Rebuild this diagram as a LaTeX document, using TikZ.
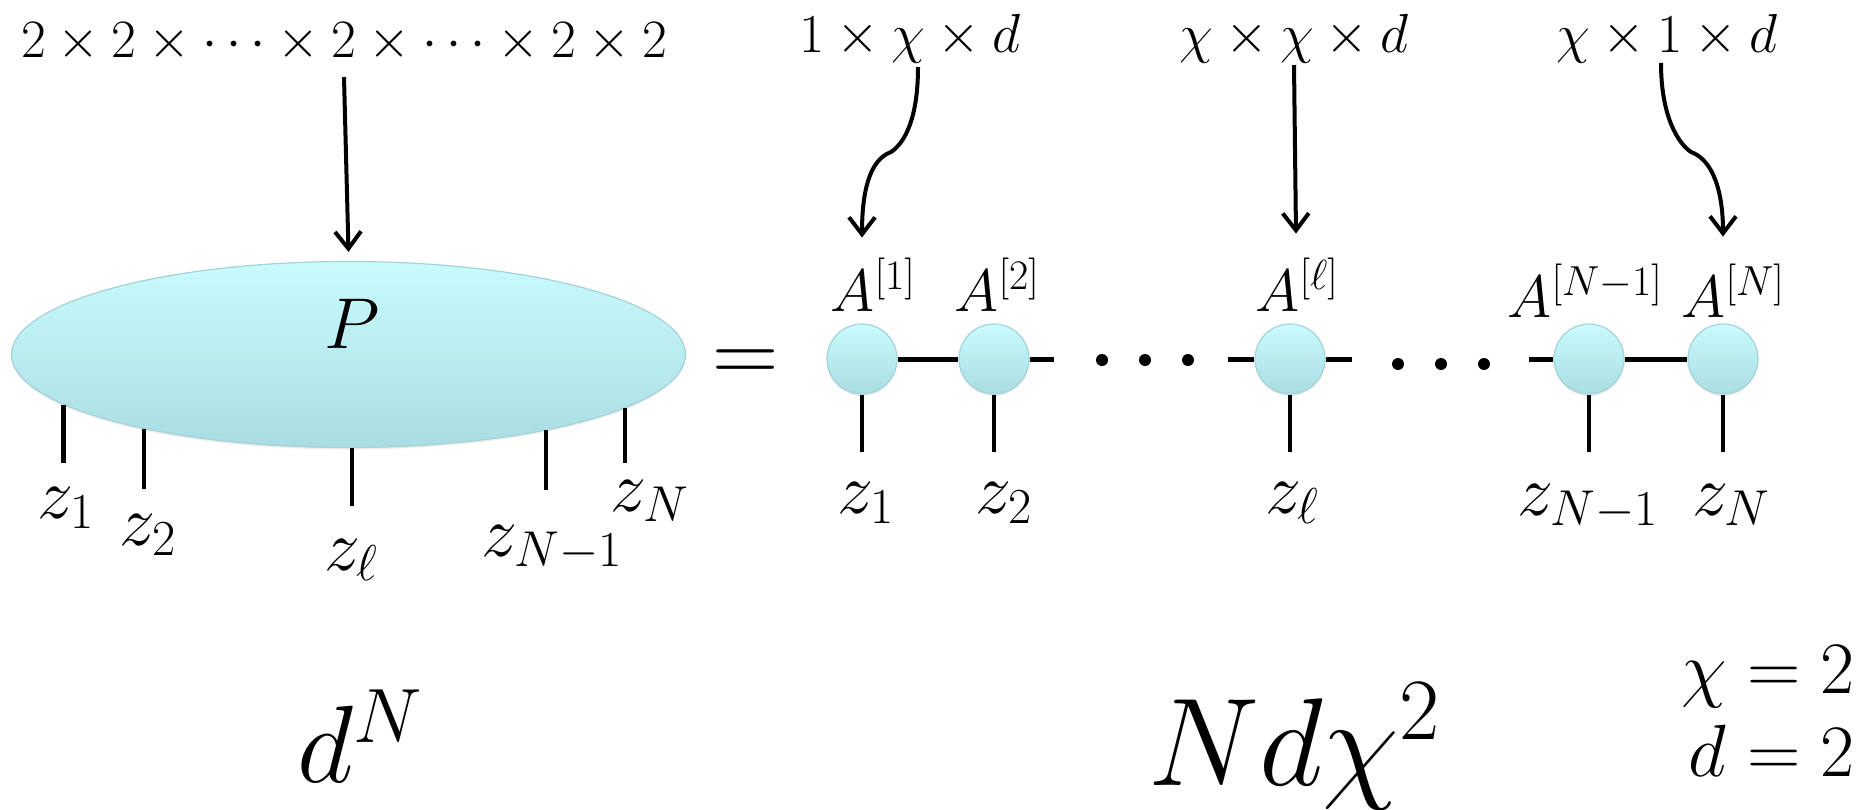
\documentclass[tikz,border=0pt]{standalone}
\usepackage{fix-cm}
\usepackage{amsmath, amssymb}
\usepackage{xcolor}
\usepackage{tikz}
\usetikzlibrary{positioning, shapes.geometric, arrows.meta, calc, shadows}
\definecolor{tenstop}{HTML}{C9FBFD}
\definecolor{tensbot}{HTML}{AADDE3}
\definecolor{tensedge}{HTML}{A3D3D8}
\newcommand{\fsz}[1]{\fontsize{#1}{#1}\selectfont}

\begin{document}
\begin{tikzpicture}[x=1pt, y=1pt,
  every node/.style={inner sep=0pt},
  tensor/.style={draw=tensedge, line width=1.2pt, top color=tenstop, bottom color=tensbot,
    drop shadow={opacity=0.15, shadow xshift=0pt, shadow yshift=-2pt}},
  mps/.style={tensor, circle, minimum size=70pt},
  bond/.style={line width=5pt},
  leg/.style={line width=4.5pt},
  arr/.style={line width=4pt, -{Straight Barb[length=17pt, width=26pt]}},
  toplbl/.style={font=\fsz{55}, anchor=base},
  zlbl/.style={font=\fsz{72}, anchor=base},
  albl/.style={font=\fsz{60}, anchor=base}]
\useasboundingbox (0,0) rectangle (1862,-809);
% Full tensor P with its N physical legs
\node[tensor, ellipse, minimum width=674pt, minimum height=186pt] (P) at (348.5,-354.5) {};
\node[font=\fsz{72}] (Plbl) at (352,-324) {$P$};
\foreach \ang/\len [count=\i] in {190.4/58, 200.3/60, 272.8/58, 339.4/60, 349.1/55} {
  \draw[leg] (P.\ang) -- ++(0,-\len) coordinate (pleg\i);
}
\node[zlbl] (pz1) at (66,-518) {$z_1$};
\node[zlbl] (pz2) at (148,-545) {$z_2$};
\node[zlbl] (pzl) at (351,-570) {$z_\ell$};
\node[zlbl] (pzm) at (552,-556) {$z_{N-1}$};
\node[zlbl] (pzn) at (650,-511) {$z_N$};
% Dimension of P
\node[toplbl, font=\fsz{54}] (dimP) at (344,-57) {$2\times 2\times\cdots\times 2\times\cdots\times 2\times 2$};
\draw[arr] ($(dimP.base)+(0,-20)$) -- ($(P.north)+(0,9)$);
% Equals sign
\node[font=\fsz{92}, anchor=base] (eq) at (746,-382) {$=$};
% MPS tensors
\foreach \name/\x in {t1/862, t2/994, tl/1290, tm/1589, tn/1723} {
  \node[mps] (\name) at (\x,-359) {};
}
% Bonds
\draw[bond] (t1) -- (t2);
\draw[bond] (t2.east) -- ++(24,0);
\draw[bond] (tl.west) -- ++(-26,0);
\draw[bond] (tl.east) -- ++(26,0);
\draw[bond] (tm.west) -- ++(-24,0);
\draw[bond] (tm) -- (tn);
% Dots between the tensors
\foreach \x/\y in {1102/-360, 1145/-360, 1188/-360, 1398/-364, 1441/-364, 1484/-364} {
  \fill (\x,\y) circle (6);
}
% Physical legs
\foreach \name in {t1, t2, tl, tm, tn} {
  \draw[leg] (\name.south) -- ++(0,-57) coordinate (\name-leg);
}
\node[zlbl] (z1) at (866,-513) {$z_1$};
\node[zlbl] (z2) at (1004,-513) {$z_2$};
\node[zlbl] (zl) at (1292,-513) {$z_\ell$};
\node[zlbl] (zm) at (1588,-515) {$z_{N-1}$};
\node[zlbl] (zn) at (1731,-515) {$z_N$};
% Tensor names
\node[albl] (A1) at (873,-311) {$A^{[1]}$};
\node[albl] (A2) at (997,-311) {$A^{[2]}$};
\node[albl] (Al) at (1297,-311) {$A^{[\ell]}$};
\node[albl] (Am) at (1585,-317) {$A^{[N-1]}$};
\node[albl] (An) at (1733,-317) {$A^{[N]}$};
% Tensor dimensions
\node[toplbl] (dim1) at (910,-52) {$1\times\chi\times d$};
\node[toplbl] (diml) at (1294,-52) {$\chi\times\chi\times d$};
\node[toplbl] (dimn) at (1667,-52) {$\chi\times 1\times d$};
\coordinate (k1) at (891,-152);
\coordinate (kn) at (1691,-152);
\draw[arr] ($(dim1.base)+(8,-15)$) .. controls +(0,-55) and +(12,8) .. (k1)
  .. controls +(-22,-8) and +(0,45) .. ($(A1.north)+(-11,20)$);
\draw[arr] ($(diml.base)+(0,-13)$) -- ($(Al.north)+(-1,24)$);
\draw[arr] ($(dimn.base)+(-6,-11)$) .. controls +(0,-55) and +(-12,8) .. (kn)
  .. controls +(22,-8) and +(0,45) .. ($(An.north)+(-10,27)$);
% Storage costs
\node[font=\fsz{110}, anchor=base] (costP) at (360,-782) {$d^N$};
\node[font=\fsz{125}, anchor=base] (costM) at (1294,-785) {$Nd\chi^2$};
\node[font=\fsz{74}, anchor=base east] (chi) at (1855,-693) {$\chi = 2$};
\node[font=\fsz{74}, anchor=base east] (dd) at (1855,-776) {$d = 2$};
\end{tikzpicture}
\end{document}
